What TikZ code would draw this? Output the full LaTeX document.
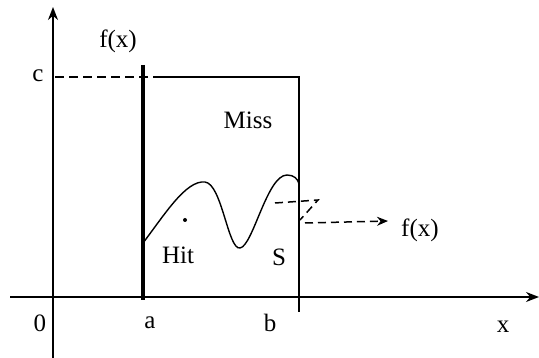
\documentclass[tikz,border=0pt]{standalone}
\usepackage{fontspec}
\setmainfont{Liberation Serif}
\usetikzlibrary{arrows.meta}
\begin{document}
\begin{tikzpicture}[x=1pt,y=-1pt,
  lbl/.style={inner sep=0pt, font=\fontsize{25}{28}\selectfont},
  axis/.style={line width=1.5pt, -{Stealth[length=13pt,width=10pt]}},
  frame/.style={line width=1.5pt},
  thickbar/.style={line width=3.2pt},
  curve/.style={line width=1.4pt},
  lead/.style={line width=1.5pt, dash pattern=on 8pt off 5pt}]
\useasboundingbox (0,0) rectangle (539,358);
% axes
\coordinate (yb) at (53,358);
\coordinate (yt) at (53,7);
\coordinate (xl) at (10,297);
\coordinate (xr) at (539,297);
\draw[axis] (yb) -- (yt);
\draw[axis] (xl) -- (xr);
% rectangle
\coordinate (c0) at (55,77);
\coordinate (ca) at (155,77);
\coordinate (cb) at (299,77);
\coordinate (bb) at (299,312);
\draw[line width=2pt, dash pattern=on 9pt off 5pt] (c0) -- (ca);
\draw[frame] (ca) -- (cb) -- (bb);
\coordinate (at) at (143,65);
\coordinate (ab) at (143,300);
\draw[thickbar] (at) -- (ab);
% curve
\coordinate (s0) at (143,243);
\coordinate (s1) at (205,182);
\coordinate (s2) at (240,248);
\coordinate (s3) at (287,175);
\coordinate (s4) at (299,184);
\draw[curve] (s0) .. controls (165,214) and (186,180) .. (s1)
  .. controls (222,184) and (228,250) .. (s2)
  .. controls (253,246) and (267,175) .. (s3)
  .. controls (294,175) and (298,179) .. (s4);
\fill (185,220) circle (2pt);
% leader
\coordinate (l0) at (275,203);
\coordinate (l1) at (318,200);
\coordinate (l2) at (300,220);
\coordinate (l3) at (305,223);
\node[lbl, anchor=west] (fx2) at (401,230) {f(x)};
\draw[lead] (l0) -- (l1) -- (l2);
\draw[lead, -{Stealth[length=11pt,width=9pt]}] (l3) -- (388,221);
% labels
\node[lbl] (fx) at (118,41) {f(x)};
\node[lbl] (c) at (38,76) {c};
\node[lbl] (miss) at (248,120) {Miss};
\node[lbl] (hit) at (178,255) {Hit};
\node[lbl] (S) at (279,257) {S};
\node[lbl] (zero) at (40,323) {0};
\node[lbl] (a) at (150,323) {a};
\node[lbl] (b) at (270,323) {b};
\node[lbl] (x) at (503,327) {x};
\end{tikzpicture}
\end{document}
